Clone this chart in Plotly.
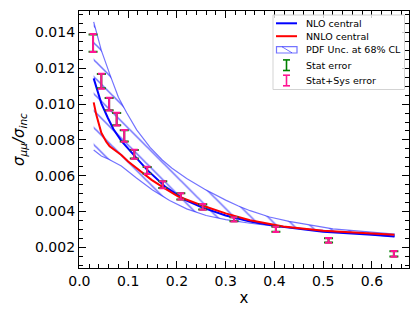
import plotly.graph_objects as go

# ---- data ----
x_data = [0.028, 0.045, 0.061, 0.0765, 0.092, 0.1126, 0.139, 0.171, 0.208, 0.253, 0.317, 0.403, 0.511, 0.645]
y_data = [0.01341, 0.01128, 0.01000, 0.00916, 0.00823, 0.00720, 0.00630, 0.00550, 0.00485, 0.00426, 0.00357, 0.00301, 0.00239, 0.00164]
err_tot = [0.00050, 0.00042, 0.00036, 0.00036, 0.00033, 0.00025, 0.00020, 0.00020, 0.00018, 0.00016, 0.00012, 0.00015, 0.00013, 0.00016]
err_stat = [0.00048, 0.00040, 0.00034, 0.00034, 0.00031, 0.00024, 0.00019, 0.00019, 0.00017, 0.00015, 0.00011, 0.00014, 0.00012, 0.00015]

x_nlo = [0.0293, 0.035, 0.045, 0.0587, 0.07, 0.086, 0.1, 0.12, 0.139, 0.1756, 0.2166, 0.25, 0.3, 0.35, 0.4, 0.5, 0.6, 0.646]
y_nlo = [0.01144, 0.0109, 0.01004, 0.00921, 0.0086, 0.00795, 0.0075, 0.0069, 0.00633, 0.0054, 0.00466, 0.00425, 0.00378, 0.00345, 0.00321, 0.00288, 0.0027, 0.00261]

x_nnlo = [0.0293, 0.0347, 0.045, 0.055, 0.062, 0.086, 0.1, 0.12, 0.148, 0.175, 0.203, 0.258, 0.3, 0.35, 0.418, 0.5, 0.6, 0.646]
y_nnlo = [0.0101, 0.0094, 0.0084, 0.0079, 0.00765, 0.00716, 0.0068, 0.00635, 0.00577, 0.0053, 0.00484, 0.00428, 0.0039, 0.00352, 0.00317, 0.00293, 0.00278, 0.00271]

x_up = [0.0293, 0.045, 0.063, 0.080, 0.097, 0.1175, 0.145, 0.17, 0.19, 0.22, 0.257, 0.278, 0.3, 0.325, 0.35, 0.39, 0.43, 0.52, 0.646]
y_up = [0.01459, 0.0130, 0.01162, 0.01038, 0.00952, 0.00856, 0.00758, 0.00688, 0.00642, 0.00585, 0.00525, 0.00494, 0.00464, 0.00433, 0.00405, 0.0037, 0.00345, 0.00303, 0.00274]

x_lo = [0.0293, 0.045, 0.06, 0.086, 0.117, 0.15, 0.185, 0.22, 0.26, 0.3, 0.35, 0.405, 0.5, 0.646]
y_lo = [0.00744, 0.0071, 0.00692, 0.00655, 0.00587, 0.0052, 0.00462, 0.00415, 0.00378, 0.00355, 0.00335, 0.00317, 0.00296, 0.0026]

legend_labels = ["NLO central", "NNLO central", "PDF Unc. at 68% CL", "Stat error", "Stat+Sys error"]

BAND = "rgba(0,0,255,0.55)"
FONT = "DejaVu Sans"

# page offset (body margin) compensation
OFF = 8
W, H = 420 - OFF, 315 - OFF

fig = go.Figure()

# PDF band (hatched polygon)
fig.add_trace(go.Scatter(
    x=x_up + x_lo[::-1], y=y_up + y_lo[::-1],
    mode="lines", fill="toself", fillcolor="rgba(255,255,255,0)",
    line=dict(color=BAND, width=1.2),
    fillpattern=dict(shape="\\", fgcolor=BAND, bgcolor="rgba(255,255,255,0)", size=12, solidity=0.13),
    hoverinfo="skip", showlegend=False))

fig.add_trace(go.Scatter(x=x_nlo, y=y_nlo, mode="lines", line=dict(color="#0000ff", width=2), showlegend=False))
fig.add_trace(go.Scatter(x=x_nnlo, y=y_nnlo, mode="lines", line=dict(color="#ff0000", width=2), showlegend=False))

# error bars
fig.add_trace(go.Scatter(x=x_data, y=y_data, mode="markers", marker=dict(size=0.1, color="rgba(0,0,0,0)"),
                         error_y=dict(type="data", array=err_stat, color="#008000", thickness=2, width=4.5),
                         showlegend=False))
fig.add_trace(go.Scatter(x=x_data, y=y_data, mode="markers", marker=dict(size=0.1, color="rgba(0,0,0,0)"),
                         error_y=dict(type="data", array=err_tot, color="#ff1493", thickness=2, width=3.5),
                         showlegend=False))

# ---- custom legend (page pixel -> paper helpers) ----
L, R, T, B = 79, 409, 11, 268
def px(v):
    return (v - L) / (R - L)
def py(v):
    return (B - v) / (B - T)

shapes = []
shapes.append(dict(type="rect", xref="paper", yref="paper", x0=px(273), x1=px(404.5), y0=py(89.5), y1=py(15),
                   line=dict(color="#d3d3d3", width=1), fillcolor="rgba(255,255,255,0.8)", layer="above"))
ys = [23.3, 36.2, 49.8, 65.2, 80.5]
shapes.append(dict(type="line", xref="paper", yref="paper", x0=px(276), x1=px(297), y0=py(ys[0]), y1=py(ys[0]),
                   line=dict(color="#0000ff", width=2), layer="above"))
shapes.append(dict(type="line", xref="paper", yref="paper", x0=px(276), x1=px(297), y0=py(ys[1]), y1=py(ys[1]),
                   line=dict(color="#ff0000", width=2), layer="above"))
shapes.append(dict(type="rect", xref="paper", yref="paper", x0=px(276.5), x1=px(297), y0=py(ys[2] + 3.2), y1=py(ys[2] - 3.2),
                   line=dict(color=BAND, width=1.2), fillcolor="rgba(0,0,0,0)", layer="above"))
shapes.append(dict(type="line", xref="paper", yref="paper", x0=px(282), x1=px(292), y0=py(ys[2] - 3), y1=py(ys[2] + 3),
                   line=dict(color=BAND, width=1), layer="above"))
for yc, col in ((ys[3], "#008000"), (ys[4], "#ff1493")):
    shapes.append(dict(type="line", xref="paper", yref="paper", x0=px(286.5), x1=px(286.5), y0=py(yc - 5.3), y1=py(yc + 5.3),
                       line=dict(color=col, width=1.6), layer="above"))
    for dy in (-5.3, 5.3):
        shapes.append(dict(type="line", xref="paper", yref="paper", x0=px(283), x1=px(290), y0=py(yc + dy), y1=py(yc + dy),
                           line=dict(color=col, width=1.6), layer="above"))

annotations = []
for lab, yc in zip(legend_labels, ys):
    annotations.append(dict(xref="paper", yref="paper", x=px(304), y=py(yc), text=lab, showarrow=False,
                            xanchor="left", yanchor="middle", font=dict(family=FONT, size=9.5, color="black")))

axis_common = dict(showline=True, linecolor="black", linewidth=1.2, mirror="allticks",
                   ticks="inside", ticklen=7, tickwidth=1.2, tickcolor="black",
                   showgrid=False, zeroline=False, automargin=False,
                   tickfont=dict(family=FONT, size=14, color="black"))

fig.update_layout(
    template=go.layout.Template(),
    width=W, height=H,
    margin=dict(l=L - OFF, r=W - (R - OFF), t=T - OFF, b=H - (B - OFF), autoexpand=False),
    paper_bgcolor="white", plot_bgcolor="white",
    font=dict(family=FONT, color="black"),
    showlegend=False,
    shapes=shapes, annotations=annotations,
    xaxis=dict(range=[-0.0008, 0.676], dtick=0.1, tick0=0, tickformat=".1f",
               minor=dict(dtick=0.02, ticks="inside", ticklen=4, tickwidth=1, tickcolor="black"),
               title=dict(text="x", font=dict(family=FONT, size=15), standoff=4),
               **axis_common),
    yaxis=dict(range=[0.00085, 0.0152], dtick=0.002, tick0=0, tickformat=".3f",
               minor=dict(dtick=0.0005, ticks="inside", ticklen=4, tickwidth=1, tickcolor="black"),
               title=dict(text="<i>σ<sub>μμ</sub>/σ<sub>inc</sub></i>", font=dict(family=FONT, size=15), standoff=6),
               **axis_common),
)

fig.write_html("out.html")
